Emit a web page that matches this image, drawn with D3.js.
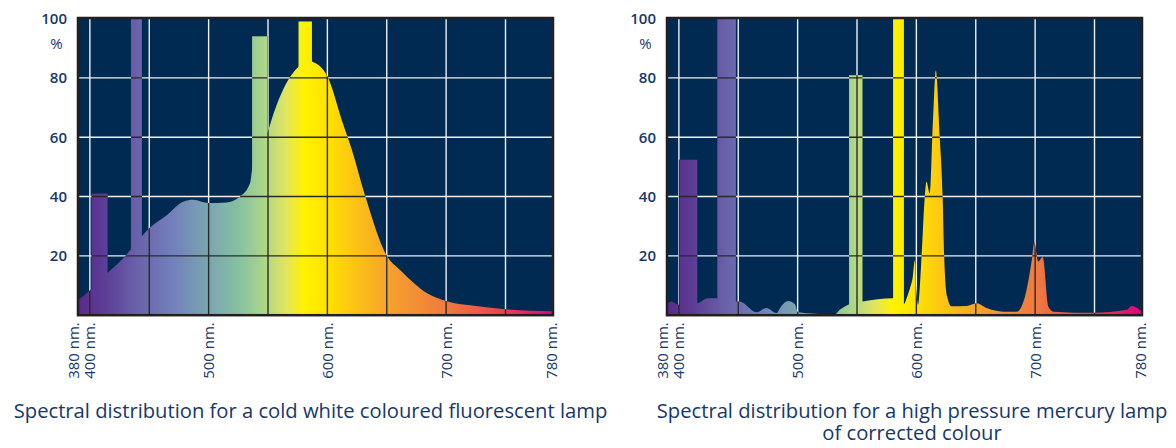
<!DOCTYPE html>
<html>
<head>
<meta charset="utf-8">
<script src="https://cdn.jsdelivr.net/npm/d3@7"></script>
<style>
  body { margin: 0; background: #ffffff; }
  svg { display: block; font-family: "Open Sans", "Noto Sans", sans-serif; }
</style>
</head>
<body>
<script>
// ------DATA------
// cold white fluorescent lamp: continuous curve (nm, %)
const fluoWl  = [390, 400, 415, 430, 435, 444, 450, 465, 479, 487, 500, 515, 526, 535, 537, 550, 553, 569, 576, 583, 587, 594, 600, 612, 620.6, 632, 650, 661, 673, 684, 700, 725, 750, 790];
const fluoVal = [5, 8.3, 14.2, 20, 22.4, 26.7, 29.3, 33.8, 38.3, 38.9, 37.8, 38, 39.8, 44.6, 50, 62, 65.9, 80.5, 83.8, 86, 85.5, 83.8, 80.5, 65.9, 55.8, 40, 20, 15.3, 10.8, 7.4, 4.8, 3.1, 2, 1.3];
// mercury lines drawn as bars
const fluoBarStart = [401.4, 434.6, 536.6, 575.7];
const fluoBarEnd   = [414.9, 443.8, 549.5, 587];
const fluoBarVal   = [41, 100, 94, 99];

// high pressure mercury lamp of corrected colour
const mercWl  = [390, 393.6, 397.8, 400, 415.5, 424.5, 432.4, 448, 451.2, 465.3, 473.7, 482.1, 486.3, 491.9, 497.6, 500.3, 515, 531.3, 535.5, 542.5, 554.6, 580.4, 589.5, 592, 594.5, 597, 598.7, 600, 601.5, 602.3, 604.4, 607.1, 608.5, 611.3, 613.9, 616.4, 619.7, 622.1, 623.4, 625.9, 629.6, 642.3, 650.8, 659.2, 673.2, 684.5, 691.5, 697.2, 699.3, 702.7, 706.4, 711.1, 715.3, 749, 777.2, 781.4, 790];
const mercVal = [3.8, 4.6, 3.8, 3.5, 4, 5.7, 5.7, 4.6, 4.6, 1, 2.4, 0.7, 3.1, 4.8, 3.8, 1, 0.5, 0.3, 1.8, 3.5, 4.6, 5.7, 3.8, 6, 9, 13, 18.4, 8, 3.5, 6.3, 20, 40, 45, 41, 65, 82.5, 60, 40, 20, 6.3, 3, 3.1, 4, 2.4, 1.2, 1.2, 6.3, 18.6, 24.5, 18.1, 19.6, 2.9, 1.2, 0.8, 1.8, 3.1, 1.2];
const mercBarStart = [400, 432.4, 543.3, 580.4];
const mercBarEnd   = [415.5, 448, 554.6, 589.5];
const mercBarVal   = [52.4, 100, 80.9, 100];

// axes
const xDomain = [390, 790];
const xTickValues = [380, 400, 500, 600, 700, 780];
const xGridValues = [400, 450, 500, 550, 600, 650, 700, 750];
const yTickValues = [20, 40, 60, 80, 100];
const yGridValues = [20, 40, 60, 80];

const titles = [
  ["Spectral distribution for a cold white coloured fluorescent lamp"],
  ["Spectral distribution for a high pressure mercury lamp", "of corrected colour"]
];

// spectrum colours along the wavelength axis
const specWl    = [390, 410, 440, 470, 500, 525, 545, 565, 580, 600, 625, 660, 700, 740, 770, 790];
const specColor = ["#5a2a8e", "#5c3a94", "#6a62aa", "#7380bb", "#7aa6b0", "#86c0a0", "#a8d58a", "#e0e560", "#fff200", "#ffe200", "#fcc116", "#f59a30", "#f07a3e", "#ee4a4c", "#e82262", "#e4007e"];

// ------LAYOUT------
const width = 1176, height = 448;
const plotW = 475;
const panels = [
  { left: 78,  titleX: 310.5, wl: fluoWl, val: fluoVal, bs: fluoBarStart, be: fluoBarEnd, bv: fluoBarVal, title: titles[0] },
  { left: 667, titleX: 912, wl: mercWl, val: mercVal, bs: mercBarStart, be: mercBarEnd, bv: mercBarVal, title: titles[1] }
];
const plotTop = 18.5, plotBottom = 315.2;
const navy = "#012a52";
const textCol = "#173868";

const svg = d3.select("body").append("svg")
  .attr("width", width)
  .attr("height", height);

const x = d3.scaleLinear().domain(xDomain).range([0, plotW]);
const y = d3.scaleLinear().domain([0, 100]).range([plotBottom, plotTop]);

// one gradient shared by both panels (panel coordinates)
const defs = svg.append("defs");
const grad = defs.append("linearGradient")
  .attr("id", "spectrum")
  .attr("gradientUnits", "userSpaceOnUse")
  .attr("x1", x(xDomain[0])).attr("x2", x(xDomain[1]))
  .attr("y1", 0).attr("y2", 0);
grad.selectAll("stop").data(d3.zip(specWl, specColor)).enter().append("stop")
  .attr("offset", d => (d[0] - xDomain[0]) / (xDomain[1] - xDomain[0]))
  .attr("stop-color", d => d[1]);

const area = d3.area()
  .x(d => x(d.wl))
  .y0(y(0))
  .y1(d => y(d.v))
  .curve(d3.curveMonotoneX);

panels.forEach((p, i) => {
  const g = svg.append("g").attr("transform", `translate(${p.left},0)`);
  const rows = d3.zip(p.wl, p.val).map(d => ({ wl: d[0], v: d[1] }));
  const bars = d3.zip(p.bs, p.be, p.bv).map(d => ({ a: d[0], b: d[1], v: d[2] }));

  // background
  g.append("rect")
    .attr("x", 0).attr("y", y(100))
    .attr("width", plotW).attr("height", y(0) - y(100))
    .attr("fill", navy);

  // grid lines, drawn once white and once dark (clipped to the spectrum)
  const drawGrid = (sel, col) => {
    sel.selectAll(".vg").data(xGridValues).enter().append("line")
      .attr("x1", d => x(d)).attr("x2", d => x(d))
      .attr("y1", y(100)).attr("y2", y(0))
      .attr("stroke", col).attr("stroke-width", 1.4);
    sel.selectAll(".hg").data(yGridValues).enter().append("line")
      .attr("x1", 0).attr("x2", plotW)
      .attr("y1", d => y(d)).attr("y2", d => y(d))
      .attr("stroke", col).attr("stroke-width", 1.4);
  };
  drawGrid(g.append("g"), "#eef1f5");

  // spectrum
  g.append("path").datum(rows)
    .attr("d", area)
    .attr("fill", "url(#spectrum)");
  g.selectAll(".bar").data(bars).enter().append("rect")
    .attr("x", d => x(d.a))
    .attr("width", d => x(d.b) - x(d.a))
    .attr("y", d => y(d.v))
    .attr("height", d => y(0) - y(d.v))
    .attr("fill", "url(#spectrum)");

  const clip = defs.append("clipPath").attr("id", "clip" + i);
  clip.append("path").datum(rows).attr("d", area);
  clip.selectAll("rect").data(bars).enter().append("rect")
    .attr("x", d => x(d.a))
    .attr("width", d => x(d.b) - x(d.a))
    .attr("y", d => y(d.v))
    .attr("height", d => y(0) - y(d.v));
  drawGrid(g.append("g").attr("clip-path", `url(#clip${i})`), "#2a2a2a");

  // frame
  g.append("rect")
    .attr("x", 0).attr("y", y(100) - 0.5)
    .attr("width", plotW).attr("height", y(0) - y(100) + 0.5)
    .attr("fill", "none")
    .attr("stroke", "#231f20")
    .attr("stroke-width", 2.5);

  // y labels
  g.selectAll(".yl").data(yTickValues).enter().append("text")
    .attr("x", -11)
    .attr("y", d => y(d))
    .attr("dy", "0.36em")
    .attr("text-anchor", "end")
    .attr("font-size", 15)
    .attr("font-weight", 600)
    .attr("fill", textCol)
    .text(d => d);
  g.append("text")
    .attr("x", -21.5)
    .attr("y", y(100) + 25)
    .attr("dy", "0.36em")
    .attr("text-anchor", "middle")
    .attr("font-size", 15)
    .attr("fill", textCol)
    .text("%");

  // x labels (380 and 780 sit at the frame edges)
  const xPos = v => v < xDomain[0] ? x(xDomain[0]) - 4.5 : v > 770 ? x(xDomain[1]) - 1 : x(v);
  g.selectAll(".xl").data(xTickValues).enter().append("text")
    .attr("transform", d => `translate(${xPos(d)},${plotBottom + 7}) rotate(-90)`)
    .attr("dy", "0.36em")
    .attr("text-anchor", "end")
    .attr("font-size", 15)
    .attr("fill", textCol)
    .text(d => d + " nm.");

  // title
  svg.append("text")
    .attr("x", p.titleX)
    .attr("y", 418)
    .attr("text-anchor", "middle")
    .attr("font-size", 20.2)
    .attr("fill", textCol)
    .selectAll("tspan").data(p.title).enter().append("tspan")
      .attr("x", p.titleX)
      .attr("dy", (d, j) => j === 0 ? 0 : 22)
      .text(d => d);
});
</script>
</body>
</html>
